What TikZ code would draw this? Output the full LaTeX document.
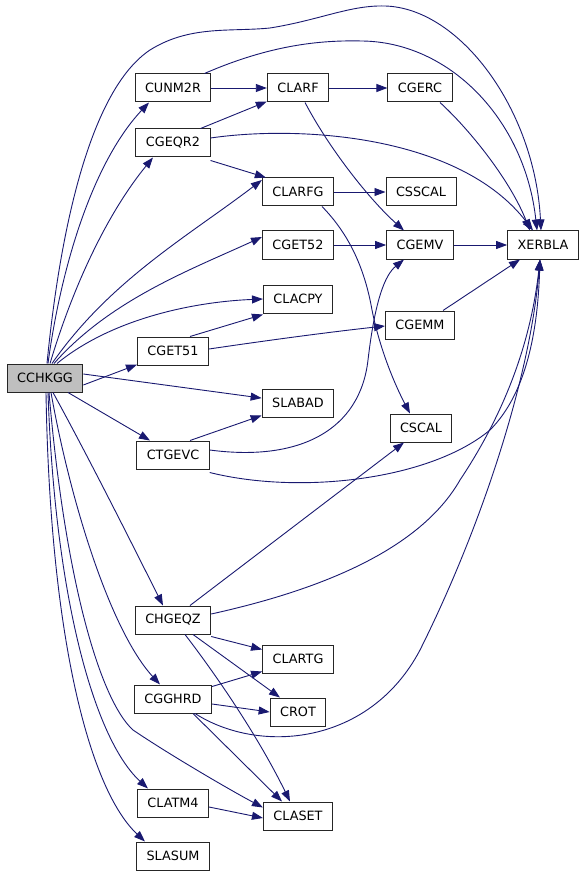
\documentclass[tikz,border=0pt]{standalone}
\usepackage{fontspec}
\setmainfont{DejaVu Sans}
\usepackage{tikz}
\usetikzlibrary{arrows.meta}
\definecolor{midnight}{RGB}{25,25,112}

\begin{document}
\begin{tikzpicture}[x=1pt,y=-1pt,
  fn/.style={draw=black!85,fill=white,line width=1pt,inner xsep=10pt,
    minimum height=28pt,font=\fontsize{12.8}{14}\selectfont},
  root/.style={fn,fill=black!25},
  call/.style={midnight,line width=0.9pt,-{Triangle[length=11pt,width=8pt]}}]
  \useasboundingbox (0,0) rectangle (587,877);
  % caller
  \node[root] (cchkgg) at (45,378) {CCHKGG};
  % second column
  \node[fn] (cunm2r) at (173,88)  {CUNM2R};
  \node[fn] (cgeqr2) at (173,143) {CGEQR2};
  \node[fn] (cget51) at (173,351) {CGET51};
  \node[fn] (ctgevc) at (173,455) {CTGEVC};
  \node[fn] (chgeqz) at (173,620) {CHGEQZ};
  \node[fn] (cgghrd) at (173,699) {CGGHRD};
  \node[fn] (clatm4) at (173,803) {CLATM4};
  \node[fn] (slasum) at (173,856) {SLASUM};
  % third column
  \node[fn] (clarf)  at (298,88)  {CLARF};
  \node[fn] (clarfg) at (298,192) {CLARFG};
  \node[fn] (cget52) at (298,245) {CGET52};
  \node[fn] (clacpy) at (298,299) {CLACPY};
  \node[fn] (slabad) at (298,403) {SLABAD};
  \node[fn] (clartg) at (298,659) {CLARTG};
  \node[fn] (crot)   at (298,712) {CROT};
  \node[fn] (claset) at (298,816) {CLASET};
  % fourth column
  \node[fn] (cgerc)  at (420,88)  {CGERC};
  \node[fn] (csscal) at (421,192) {CSSCAL};
  \node[fn] (cgemv)  at (420,245) {CGEMV};
  \node[fn] (cgemm)  at (420,325) {CGEMM};
  \node[fn] (cscal)  at (421,428) {CSCAL};
  \node[fn] (xerbla) at (543,245) {XERBLA};

  % calls out of CCHKGG, upper fan
  \draw[call] ([xshift=2pt]cchkgg.north) .. controls (60,230) and (90,90) .. (150,50)
    .. controls (190,25) and (230,32) .. (270,28) .. controls (320,20) and (350,5) .. (385,6)
    .. controls (460,8) and (535,110) .. ([xshift=-2pt]xerbla.north);
  \draw[call] ([xshift=3pt]cchkgg.north) .. controls (62,260) and (95,160) .. ([xshift=-24pt]cunm2r.south);
  \draw[call] ([xshift=5pt]cchkgg.north) .. controls (75,280) and (110,210) .. ([xshift=-20pt]cgeqr2.south);
  \draw[call] ([xshift=7pt]cchkgg.north) .. controls (110,280) and (190,235) .. ([yshift=12pt]clarfg.west);
  \draw[call] ([xshift=9pt]cchkgg.north) .. controls (110,300) and (190,270) .. ([yshift=8pt]cget52.west);
  \draw[call] ([xshift=12pt]cchkgg.north) .. controls (110,320) and (190,302) .. (clacpy.west);
  \draw[call] ([yshift=-7pt]cchkgg.east) -- (cget51);
  \draw[call] ([yshift=4pt]cchkgg.east) -- (slabad);
  \draw[call] ([xshift=23pt]cchkgg.south) -- ([xshift=-23pt]ctgevc.north);
  % lower fan
  \draw[call] ([xshift=8pt]cchkgg.south) .. controls (90,460) and (130,540) .. ([xshift=-10pt]chgeqz.north);
  \draw[call] ([xshift=6pt]cchkgg.south) .. controls (70,500) and (110,630) .. ([xshift=-13pt]cgghrd.north);
  \draw[call] ([xshift=4pt]cchkgg.south) .. controls (65,580) and (100,700) .. (133,730)
    .. controls (170,755) and (230,790) .. ([yshift=-6pt]claset.north west);
  \draw[call] ([xshift=3pt]cchkgg.south) .. controls (55,600) and (95,740) .. ([xshift=-25pt]clatm4.north);
  \draw[call] ([xshift=1pt]cchkgg.south) .. controls (50,640) and (90,790) .. ([xshift=-28pt]slasum.north);

  % QR helpers
  \draw[call] (cunm2r) -- (clarf);
  \draw[call] ([xshift=-7pt]cunm2r.north east) .. controls (270,45) and (320,40) .. (362,41)
    .. controls (450,42) and (525,120) .. ([xshift=-6pt]xerbla.north);
  \draw[call] ([xshift=-10pt]cgeqr2.north east) -- ([yshift=1pt]clarf.south west);
  \draw[call] ([yshift=-3pt]cgeqr2.south east) -- ([xshift=4pt]clarfg.north west);
  \draw[call] ([yshift=5pt]cgeqr2.east) .. controls (300,125) and (460,135) .. ([xshift=-10pt]xerbla.north);
  \draw[call] (clarf) -- (cgerc);
  \draw[call] ([xshift=7pt]clarf.south) .. controls (330,150) and (370,200) .. ([xshift=-16pt]cgemv.north);
  \draw[call] ([xshift=20pt]cgerc.south) .. controls (470,130) and (510,180) .. ([xshift=-13pt]xerbla.north);
  \draw[call] (clarfg) -- (csscal);
  \draw[call] ([xshift=24pt]clarfg.south) .. controls (350,235) and (365,270) .. (372,310)
    .. controls (380,350) and (395,385) .. ([xshift=-11pt]cscal.north);
  \draw[call] (cget52) -- (cgemv);
  \draw[call] (cgemv) -- (xerbla);

  % test helpers
  \draw[call] ([xshift=17pt]cget51.north) -- ([yshift=-1pt]clacpy.south west);
  \draw[call] ([yshift=2pt]cget51.east) .. controls (270,340) and (330,332) .. ([yshift=-1pt]cgemm.west);
  \draw[call] ([xshift=23pt]cgemm.north) -- ([xshift=-23pt]xerbla.south);
  \draw[call] ([xshift=17pt]ctgevc.north) -- ([yshift=2pt]slabad.south west);
  \draw[call] ([yshift=5pt]ctgevc.east) .. controls (300,462) and (360,430) .. (368,360)
    .. controls (375,300) and (385,275) .. ([xshift=-16pt]cgemv.south);
  \draw[call] ([yshift=-3pt]ctgevc.south east) .. controls (300,495) and (430,480) .. (490,430)
    .. controls (530,390) and (538,320) .. ([xshift=-3pt]xerbla.south);

  % QZ helpers
  \draw[call] ([xshift=17pt]chgeqz.north) -- ([xshift=-17pt]cscal.south);
  \draw[call] ([yshift=6pt]chgeqz.east) .. controls (320,590) and (420,550) .. (460,480)
    .. controls (500,420) and (530,350) .. ([xshift=-3pt]xerbla.south);
  \draw[call] ([yshift=-2pt]chgeqz.south east) -- ([yshift=-5pt]clartg.north west);
  \draw[call] ([xshift=20pt]chgeqz.south) -- ([xshift=-18pt]crot.north);
  \draw[call] ([xshift=12pt]chgeqz.south) .. controls (220,680) and (260,740) .. ([xshift=-8pt]claset.north);
  \draw[call] ([yshift=-2pt]cgghrd.north east) -- ([yshift=2pt]clartg.south west);
  \draw[call] ([yshift=-5pt]cgghrd.east) -- (crot.west);
  \draw[call] ([xshift=20pt]cgghrd.south) -- ([xshift=-16pt]claset.north);
  \draw[call] ([xshift=22pt]cgghrd.south) .. controls (260,755) and (370,745) .. (420,650)
    .. controls (480,530) and (530,380) .. ([xshift=-3pt]xerbla.south);
  \draw[call] ([yshift=-4pt]clatm4.east) -- ([yshift=-2pt]claset.west);
\end{tikzpicture}
\end{document}
